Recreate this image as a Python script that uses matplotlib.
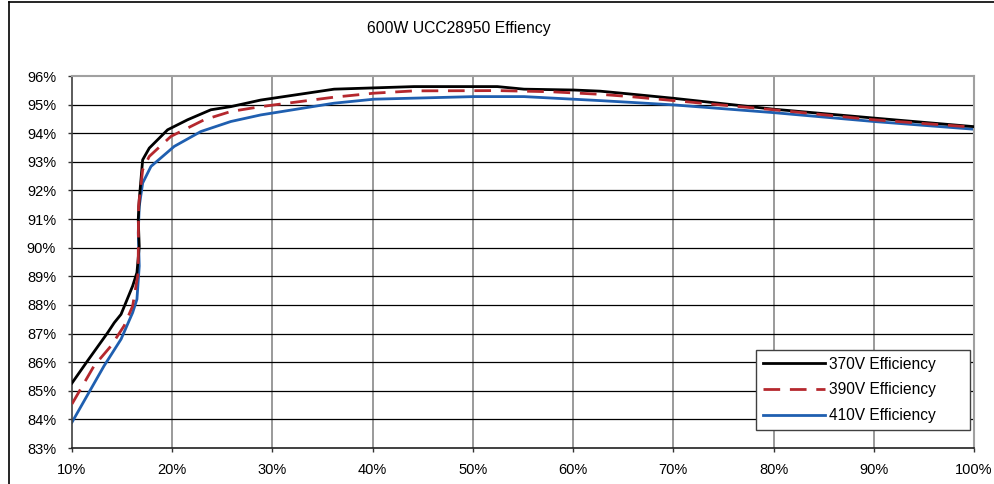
import matplotlib
matplotlib.use("Agg")
import matplotlib.pyplot as plt
from matplotlib.lines import Line2D
from matplotlib.ticker import FuncFormatter

plt.rcParams['font.family'] = ['Liberation Sans', 'DejaVu Sans']

title = "600W UCC28950 Effiency"
labels = ["370V Efficiency", "390V Efficiency", "410V Efficiency"]

load_370 = [10.0, 11.56, 13.56, 14.22, 14.89, 16.05, 16.48, 16.71, 16.61, 16.71, 17.05, 17.71,
            19.54, 21.53, 23.86, 25.85, 28.84, 36.15, 44.13, 52.44, 55.1, 60.08, 62.7, 65.7,
            70.05, 80.0, 90.0, 100.0]
eff_370 = [85.27, 86.05, 87.03, 87.38, 87.67, 88.66, 89.13, 90.05, 90.98, 91.68, 93.07, 93.48,
           94.12, 94.47, 94.82, 94.93, 95.16, 95.54, 95.63, 95.63, 95.54, 95.51, 95.47, 95.37,
           95.22, 94.84, 94.53, 94.23]

load_390 = [10.0, 12.2, 13.9, 15.2, 16.05, 16.6, 16.62, 16.64, 17.05, 17.71, 19.87, 23.19,
            25.85, 28.84, 36.15, 40.14, 44.13, 52.44, 57.76, 62.7, 65.7, 70.05, 80.0, 90.0, 100.0]
eff_390 = [84.54, 85.87, 86.57, 87.27, 87.96, 89.12, 90.05, 91.45, 92.72, 93.19, 93.89, 94.47,
           94.76, 94.93, 95.26, 95.40, 95.48, 95.49, 95.45, 95.36, 95.28, 95.14, 94.82, 94.47, 94.21]

load_410 = [10.0, 13.2, 14.89, 16.05, 16.48, 16.71, 16.61, 16.71, 17.05, 17.88, 20.2, 22.86,
            25.85, 28.84, 36.15, 40.14, 50.12, 55.1, 62.7, 65.7, 70.05, 80.0, 90.0, 100.0]
eff_410 = [83.9, 85.87, 86.8, 87.73, 88.2, 89.36, 90.52, 91.45, 92.26, 92.84, 93.54, 94.06,
           94.41, 94.64, 95.05, 95.19, 95.28, 95.28, 95.14, 95.08, 94.99, 94.72, 94.41, 94.14]

x_ticks = [10, 20, 30, 40, 50, 60, 70, 80, 90, 100]
y_ticks = list(range(83, 97))

W, H = 994, 484
AX_L, AX_R, AX_T, AX_B = 72, 974, 76, 448
fig = plt.figure(figsize=(W / 100, H / 100), dpi=100)
ax = fig.add_axes([AX_L / W, 1 - AX_B / H, (AX_R - AX_L) / W, (AX_B - AX_T) / H])

# figure border (left and top visible)
fig.add_artist(Line2D([9 / W, 9 / W], [0, 1 - 2 / H], color='black', lw=1.2, transform=fig.transFigure))
fig.add_artist(Line2D([9 / W, 1], [1 - 2 / H, 1 - 2 / H], color='black', lw=1.2, transform=fig.transFigure))

ax.set_xlim(10, 100)
ax.set_ylim(83, 96)
ax.set_xticks(x_ticks)
ax.set_yticks(y_ticks)
ax.xaxis.set_major_formatter(FuncFormatter(lambda v, p: f"{int(round(v))}%"))
ax.yaxis.set_major_formatter(FuncFormatter(lambda v, p: f"{int(round(v))}%"))
ax.tick_params(axis='both', labelsize=10.5, color='#333333', length=3, width=1, direction='out')
ax.tick_params(axis='y', pad=8.5)
ax.tick_params(axis='x', pad=8)

for v in x_ticks[1:-1]:
    ax.axvline(v, color='#7f7f7f', lw=1.1, zorder=1)
for v in y_ticks[1:-1]:
    ax.axhline(v, color='black', lw=0.9, zorder=1)

for s in ['top', 'right']:
    ax.spines[s].set_color('#a0a0a0')
    ax.spines[s].set_linewidth(1.5)
ax.spines['left'].set_color('#404040')
ax.spines['bottom'].set_color('#202020')
ax.spines['left'].set_linewidth(1.2)
ax.spines['bottom'].set_linewidth(1.2)

ax.plot(load_370, eff_370, color='black', lw=2.0, label=labels[0], zorder=3)
ax.plot(load_390, eff_390, color='#b5282e', lw=2.0, dashes=(6, 3.5), label=labels[1], zorder=4)
ax.plot(load_410, eff_410, color='#1f5fb0', lw=2.0, label=labels[2], zorder=2)

# legend box: x 756..970, y 349..429 (pixels)
lx0 = (756 - AX_L) / (AX_R - AX_L)
lx1 = (970 - AX_L) / (AX_R - AX_L)
ly0 = (AX_B - 429.5) / (AX_B - AX_T)
leg = ax.legend(loc='lower left', bbox_to_anchor=(lx0, ly0, lx1 - lx0, 0.1), mode='expand',
                fontsize=11.2, frameon=True, fancybox=False, framealpha=1,
                edgecolor='#404040', handlelength=4.0, handletextpad=0.26, borderpad=0.42,
                labelspacing=0.68, borderaxespad=0)
leg.get_frame().set_linewidth(1.0)

fig.text(459 / W, 1 - 28 / H, title, ha='center', va='center', fontsize=11.3)

fig.savefig("out.png", dpi=100)
